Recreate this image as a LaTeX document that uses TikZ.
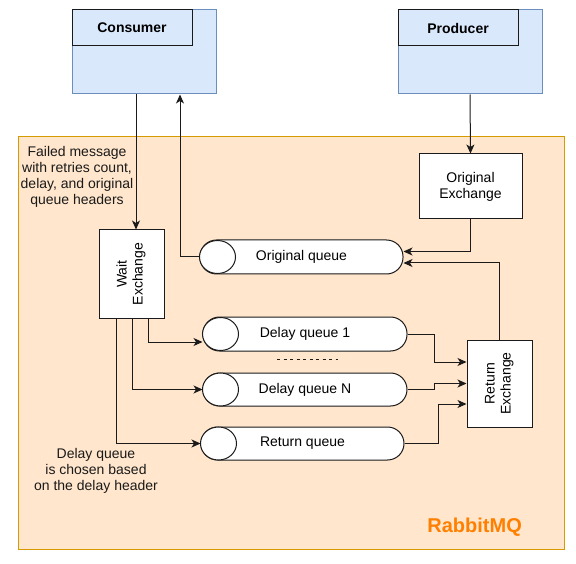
\documentclass[tikz,border=0pt]{standalone}
\usepackage{fontspec}
\setmainfont{Liberation Sans}
\usetikzlibrary{arrows.meta,calc}
\definecolor{bluefill}{HTML}{DAE8FC}
\definecolor{blueline}{HTML}{6C8EBF}
\definecolor{orgfill}{HTML}{FFE6CC}
\definecolor{orgline}{HTML}{D79B00}
\definecolor{rabbit}{HTML}{FF8000}
\definecolor{ink}{HTML}{1A1A1A}
\begin{document}
\begin{tikzpicture}[x=1pt,y=-1pt,
  font=\fontsize{14}{16}\selectfont,
  outerbox/.style={draw=blueline, fill=bluefill, line width=1pt, inner sep=0pt, minimum width=144pt, minimum height=84pt},
  headbox/.style={draw=ink, fill=bluefill, line width=1pt, inner sep=0pt, minimum width=120pt, minimum height=36pt, font=\fontsize{14}{16}\selectfont\bfseries},
  exbox/.style={draw=ink, fill=white, line width=1pt, inner sep=0pt, align=center},
  queue/.style={draw=ink, fill=white, line width=1pt, rounded corners=16.5pt, inner sep=0pt, minimum height=34pt},
  conn/.style={draw=ink, line width=1pt},
  arr/.style={conn, -{Stealth[length=9pt,width=8pt,inset=2.5pt]}},
  note/.style={align=center, text=ink, inner sep=0pt}
]
\useasboundingbox (0,0) rectangle (576,564);
% RabbitMQ container
\node[draw=orgline, fill=orgfill, line width=1pt, minimum width=546pt, minimum height=412pt, inner sep=0pt] (rmq) at (291,343) {};
\node[anchor=base east, text=rabbit, font=\fontsize{20}{23}\selectfont\bfseries, inner sep=0pt] (rlabel) at (522,532) {RabbitMQ};

% Consumer / Producer
\node[outerbox] (cons) at (144,52) {};
\node[headbox] (conshead) at (132,28) {Consumer};
\node[outerbox] (prod) at (470,52) {};
\node[headbox] (prodhead) at (458,28) {Producer};

% Exchanges
\node[exbox, minimum width=103pt, minimum height=65pt] (oex) at (470.5,186.5) {Original\\Exchange};
\node[exbox, minimum width=65pt, minimum height=88pt] (wex) at (131.5,274) {\rotatebox{90}{\begin{tabular}{@{}c@{}}Wait\\Exchange\end{tabular}}};
\node[exbox, minimum width=65pt, minimum height=87pt] (rex) at (499.5,383.5) {\rotatebox{90}{\begin{tabular}{@{}c@{}}Return\\Exchange\end{tabular}}};

% Queues
\node[queue, minimum width=203pt] (oq) at (301.5,257) {Original queue};
\node[queue, minimum width=204pt] (dq1) at (305,334) {Delay queue 1};
\node[queue, minimum width=204pt, minimum height=33pt] (dqn) at (305,389.5) {Delay queue N};
\node[queue, minimum width=203pt, minimum height=33pt] (rq) at (302.5,443.5) {Return queue};
\foreach \q in {oq,dq1,dqn,rq}{
  \draw[draw=ink, fill=white, line width=1pt] ([xshift=18pt]\q.west) ellipse (18pt and 16.5pt);
}
\draw[ink, line width=1pt, dash pattern=on 3pt off 3.5pt] (277,359) -- (338,359);

% Notes
\node[note] (n1) at (77,177) {Failed message\\with retries count,\\delay, and original\\queue headers};
\node[note] (n2) at (96,471) {Delay queue\\is chosen based\\on the delay header};

% Helper coordinates
\coordinate (c1) at (136,0);
\coordinate (c2) at (180,0);
\coordinate (w1) at (148,0);
\coordinate (w2) at (132,0);
\coordinate (w3) at (116,0);

% Connectors
\draw[arr] (prod.south) -- (oex.north);
\draw[arr] (cons.south -| c1) -- (wex.north -| c1);
\draw[arr] (oq.west) -| (cons.south -| c2);
\draw[arr] (oex.south) |- ([yshift=5.5pt]oq.east);
\draw[arr] (rex.north) |- ([yshift=-6pt]oq.east);
\draw[arr] (wex.south -| w1) |- ([yshift=-8pt]dq1.west);
\draw[arr] (wex.south -| w2) |- (dqn.west);
\draw[arr] (wex.south -| w3) |- (rq.west);
\draw[arr] (dq1.east) -- ++(27,0) |- ([yshift=21.5pt]rex.west);
\draw[arr] (dqn.east) -- ++(27,0) |- (rex.west);
\draw[arr] (rq.east) -- ++(33.5,0) |- ([yshift=-20.5pt]rex.west);
\end{tikzpicture}
\end{document}
